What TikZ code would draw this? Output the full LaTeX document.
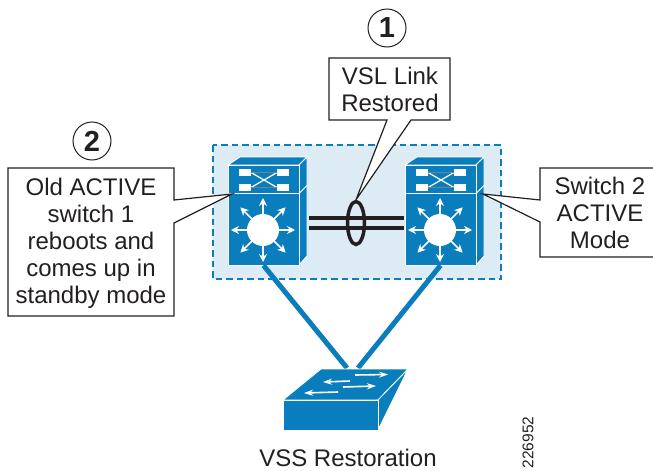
\documentclass[tikz,border=0pt]{standalone}
\usepackage{fontspec}
\setmainfont{Liberation Sans}
\usepackage{tikz}
\usetikzlibrary{shapes.geometric}
\usetikzlibrary{arrows.meta}
\definecolor{ciscoblue}{HTML}{0A7DBC}
\definecolor{vsspale}{HTML}{DDEBF5}
\definecolor{inkdark}{HTML}{231F20}
\tikzset{
    callout/.style={draw=inkdark, fill=white, line width=1.2pt, line join=miter},
    calltext/.style={text=inkdark, align=center, font=\fontsize{24}{27}\selectfont},
    stepmark/.style={draw=inkdark, circle, line width=1pt, minimum size=38pt, inner sep=0pt, text=inkdark, font=\fontsize{29}{29}\selectfont\bfseries},
    chassis/.style={fill=ciscoblue, draw=white, line width=0.8pt, line join=round},
    uplink/.style={draw=ciscoblue, line width=5pt},
    vsl/.style={draw=inkdark, line width=4pt},
    ray/.style={white, line width=1.7pt, -{Stealth[length=8pt,width=8pt]}},
    flow/.style={white, line width=1.6pt, -{Stealth[length=9pt,width=6pt]}}
}
\begin{document}
\begin{tikzpicture}[x=1pt,y=-1pt]
            \useasboundingbox (0,0) rectangle (653,471);
            % Le domaine VSS
            \draw[fill=vsspale, draw=ciscoblue, line width=2.8pt, dash pattern=on 6.5pt off 4pt] (213,145) rectangle (501,279);
            % Les deux commutateurs
            \foreach \x/\nm in {0/one,177/two} {
                \begin{scope}[xshift=\x pt]
                    \draw[chassis] (228,165) -- (240,157) -- (307,157) -- (299,165) -- cycle;
                    \draw[chassis] (299,165) -- (307,157) -- (307,256) -- (299,265) -- cycle;
                    \draw[white, line width=0.8pt] (299,193.5) -- (307,185.5);
                    \node[chassis, minimum width=71pt, minimum height=28.5pt, inner sep=0pt] (top\nm) at (263.5,179.25) {};
                    \node[chassis, minimum width=71pt, minimum height=71.5pt, inner sep=0pt] (sw\nm) at (263.5,229.25) {};
                    % Les modules du haut
                    \foreach \px in {239,277} {
                        \fill[white] (\px,169) rectangle (\px+12,176);
                        \fill[white] (\px,184) rectangle (\px+12,191);
                    }
                    \draw[white, line width=1.4pt] (251,172.5) -- (277,172.5) (251,187.5) -- (277,187.5);
                    \draw[white, line width=1.2pt] (251,172.5) -- (277,187.5) (251,187.5) -- (277,172.5);
                    \draw[gray, line width=0.4pt] (251,172.5) -- (277,172.5) (251,187.5) -- (277,187.5);
                    % L'etoile du routeur
                    \foreach \a in {0,45,...,315} {
                        \draw[ray] (263,230) -- ++(\a:32);
                    }
                    \fill[white] (263,230) circle (16);
                \end{scope}
            }
            % Le lien VSL
            \coordinate (vslleft) at (309,0);
            \coordinate (vslright) at (404,0);
            \draw[vsl] (vslleft |- 0,218) -- (vslright |- 0,218);
            \draw[vsl] (vslleft |- 0,228) -- (vslright |- 0,228);
            \node[ellipse, draw=inkdark, line width=3.5pt, minimum width=17pt, minimum height=43pt, inner sep=0pt] (ring) at (356,223) {};
            % Le commutateur d'acces
            \draw[uplink] (swone.south) -- (347,368);
            \draw[uplink] (swtwo.south) -- (358,368);
            \draw[chassis] (283,400) -- (321,369) -- (408,369) -- (378,400) -- cycle;
            \draw[chassis] (378,400) -- (408,369) -- (378,430) -- cycle;
            \node[chassis, minimum width=95pt, minimum height=30pt, inner sep=0pt] (access) at (330.5,415) {};
            \draw[flow] (355,375) -- (388,374.5);
            \draw[flow] (350,381) -- (323,382);
            \draw[flow] (343,387) -- (376,386);
            \draw[flow] (338,392) -- (304,393);
            % Les bulles
            \draw[callout] (329,58) -- (450,58) -- (450,120) -- (411,120) -- (ring.north) -- (387,120) -- (329,120) -- cycle;
            \draw[callout] (8,168) -- (174,168) -- (174,200) -- (232,194) -- (174,223) -- (174,316) -- (8,316) -- cycle;
            \draw[callout] (654,168) -- (540,168) -- (540,200) -- (483,194) -- (540,222) -- (540,257) -- (654,257);
            \node[calltext] (msgvsl) at (390,89.5) {VSL Link\\Restored};
            \node[calltext] (msgold) at (91,243) {Old ACTIVE\\switch 1\\reboots and\\comes up in\\standby mode};
            \node[calltext] (msgact) at (600,213) {Switch 2\\ACTIVE\\Mode};
            \node[stepmark] (markone) at (387,28) {1};
            \node[stepmark] (marktwo) at (92,141) {2};
            % Le titre et le numero
            \node[text=inkdark, font=\fontsize{24}{24}\selectfont, inner sep=0pt, anchor=base] (title) at (348,466.5) {VSS Restoration};
            \node[text=inkdark, rotate=90, font=\fontsize{15.5}{16}\selectfont, inner sep=0pt] (figid) at (528,442.5) {226952};
        \end{tikzpicture}
\end{document}
